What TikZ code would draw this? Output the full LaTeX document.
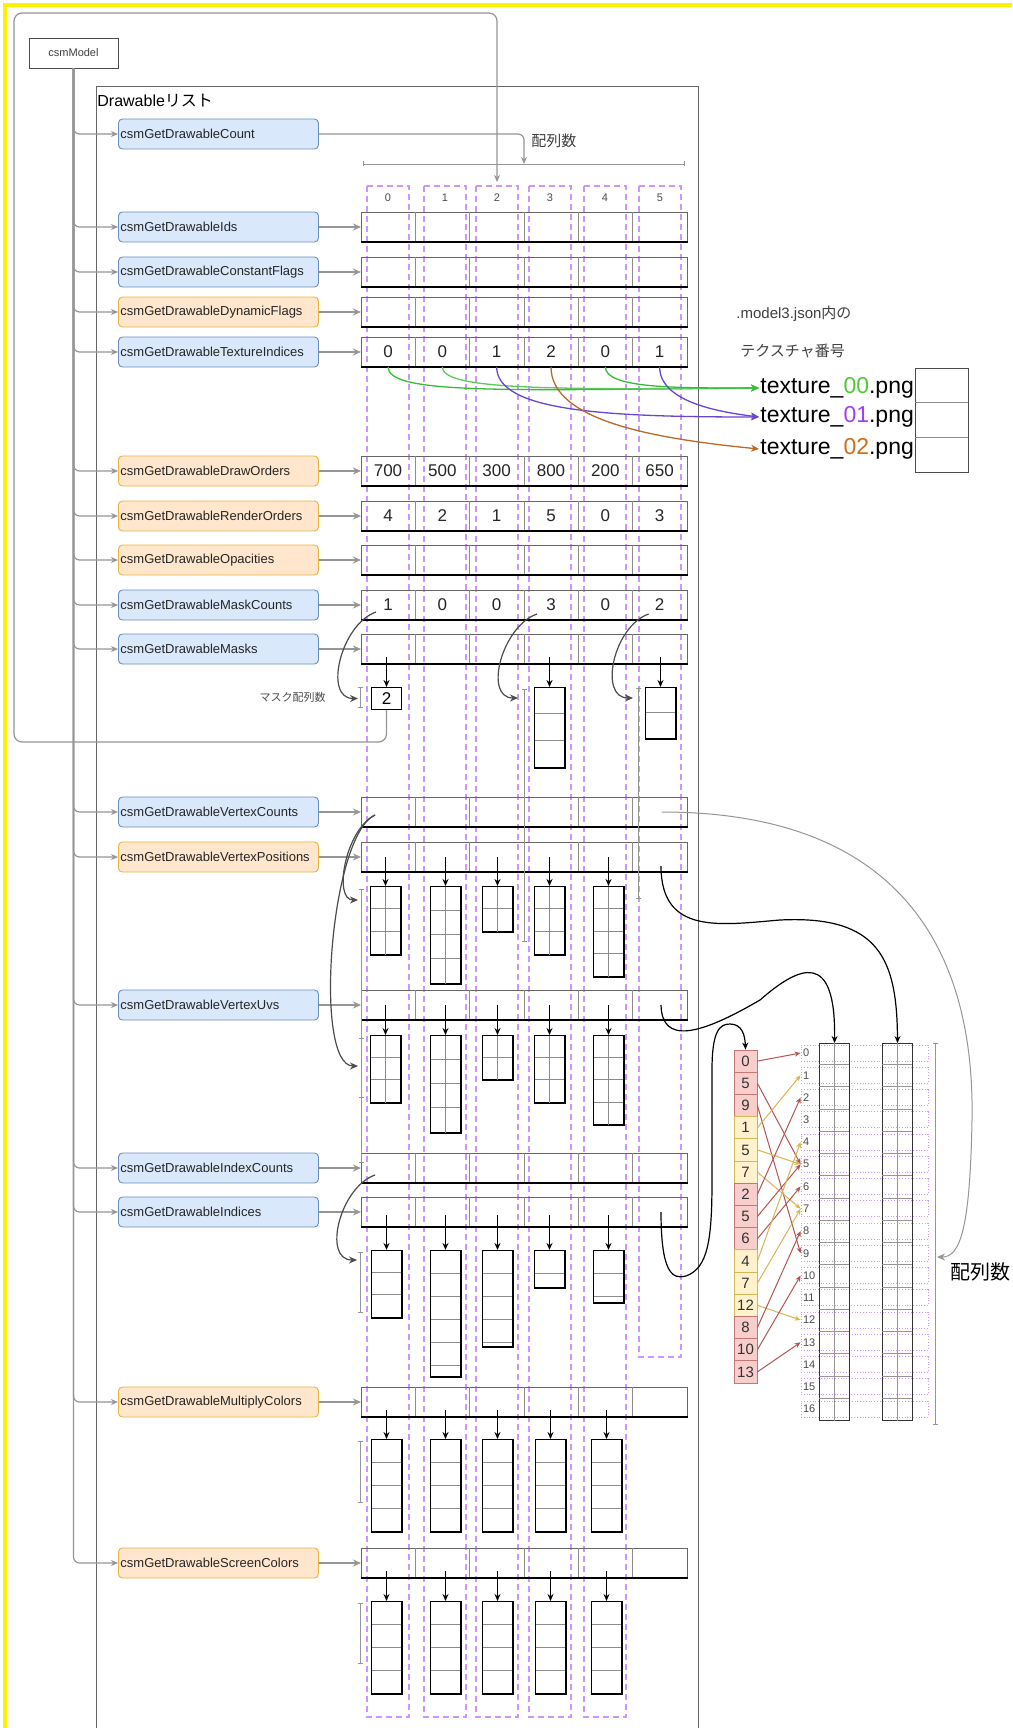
\documentclass[tikz,border=0pt]{standalone}
\usepackage{fontspec}
\setmainfont{Liberation Sans}
\newfontfamily\jp{Noto Sans CJK JP}
\usetikzlibrary{arrows.meta}
\usetikzlibrary{calc}
\definecolor{blue1}{RGB}{218,232,252}
\definecolor{blue2}{RGB}{108,142,191}
\definecolor{orange1}{RGB}{255,230,204}
\definecolor{orange2}{RGB}{235,180,60}
\definecolor{red1}{RGB}{248,206,204}
\definecolor{red2}{RGB}{184,84,80}
\definecolor{yellow1}{RGB}{255,242,204}
\definecolor{yellow2}{RGB}{214,182,86}
\definecolor{purple1}{RGB}{204,150,255}
\definecolor{gray1}{RGB}{150,150,150}
\definecolor{green2}{RGB}{51,190,51}
\definecolor{violet2}{RGB}{105,70,210}
\definecolor{brown2}{RGB}{185,105,40}
\definecolor{greentxt}{RGB}{80,200,50}
\definecolor{violettxt}{RGB}{160,60,255}
\definecolor{browntxt}{RGB}{205,110,20}
\newcommand{\pxfont}[1]{\fontsize{#1}{#1}\selectfont}

\begin{document}
\begin{tikzpicture}[x=1pt, y=-1pt, line width=0.8pt,
  fbox/.style={rounded corners=4pt, line width=0.9pt, minimum height=30pt, text width=196pt,
    inner xsep=2pt, align=left, anchor=west, font=\pxfont{13}, text=black!85},
  fblue/.style={fbox, fill=blue1, draw=blue2},
  forange/.style={fbox, fill=orange1, draw=orange2},
  arrrow/.style={draw=black!60, minimum width=326pt, minimum height=29pt, inner sep=0pt, anchor=west},
  cellline/.style={draw=black!45, line width=0.8pt},
  colfrm/.style={draw=purple1, dash pattern=on 6pt off 4pt, line width=1.6pt},
  val/.style={font=\pxfont{17}, inner sep=0pt, text=black!85},
  hdr/.style={font=\pxfont{11}, text=black!70},
  feed/.style={draw=gray1, line width=1.3pt, -{Stealth[length=8pt,width=7pt]}},
  branch/.style={draw=gray1, line width=1.2pt, rounded corners=6pt, -{Stealth[length=7pt,width=6pt]}},
  blk/.style={draw=black, line width=1.2pt, -{Stealth[length=7pt,width=6pt]}},
  crv/.style={draw=black!70, line width=1.2pt, -{Stealth[length=8pt,width=7pt]}},
  rng/.style={draw=gray1, line width=0.8pt, {Bar[width=5pt]}-{Bar[width=5pt]}},
  subbox/.style={draw=black, line width=1pt, fill=white, minimum width=30pt, inner sep=0pt, anchor=north west},
  idxbox/.style={minimum width=23pt, minimum height=22.2pt, inner sep=0pt, font=\pxfont{15}, text=black!80, line width=0.8pt},
  idxred/.style={idxbox, fill=red1, draw=red2!80},
  idxyel/.style={idxbox, fill=yellow1, draw=yellow2},
  lbrow/.style={draw=purple1, dotted, line width=0.8pt, minimum width=127pt, minimum height=16pt, text width=123pt,
    inner xsep=2pt, inner ysep=0pt, align=left, font=\pxfont{11}, text=black!70},
  tored/.style={draw=red2, line width=1pt, -{Stealth[length=6pt,width=5pt]}},
  toyel/.style={draw=yellow2, line width=1pt, -{Stealth[length=6pt,width=5pt]}},
  texarr/.style={line width=1.3pt, -{Stealth[length=8pt,width=7pt]}}]

\useasboundingbox (0,0) rectangle (1012,1728);
\fill[white] (0,0) rectangle (1012,1728);

% purple column frames
\foreach \cx/\cb [count=\k from 0] in {388/1717, 445/1717, 497/1717, 550/1717, 605/1717, 660/1357} {
  \draw[colfrm] (\cx-21,186) rectangle (\cx+21,\cb);
  \node[hdr] (h\k) at (\cx,198) {\k};
}

% model and list
\node[draw=black!70, minimum width=89pt, minimum height=30pt, inner sep=0pt, font=\pxfont{11}, text=black!75] (model) at (73.5,53) {csmModel};
\draw[draw=black!60, line width=1pt] (96,1730) |- (698,87) -- (698,1730);
\node[anchor=west, inner sep=0pt, font=\pxfont{16}] (lst) at (97,101) {Drawable{\jp リスト}};

\node[fblue] (f-Count) at (118,134) {csmGetDrawableCount};
\draw[branch] (model.south) |- (f-Count.west);

\foreach \nm/\y/\sty in {Ids/227/fblue, ConstantFlags/272/fblue, DynamicFlags/312/forange,
    TextureIndices/352/fblue, DrawOrders/471/forange, RenderOrders/516/forange,
    Opacities/560/forange, MaskCounts/605/fblue, Masks/649/fblue, VertexCounts/812/fblue,
    VertexPositions/857/forange, VertexUvs/1005/fblue, IndexCounts/1168/fblue,
    Indices/1212/fblue, MultiplyColors/1402/forange, ScreenColors/1563/forange}
{
  \node[\sty] (f-\nm) at (118,\y) {csmGetDrawable\nm};
  \draw[branch] (model.south) |- (f-\nm.west);
  \node[arrrow] (r-\nm) at (361,\y) {};
  \foreach \k in {1,...,5}
    \draw[cellline] ($(r-\nm.north west)+(54.33*\k,0)$) -- ($(r-\nm.south west)+(54.33*\k,0)$);
  \draw[line width=1.6pt] (r-\nm.south west) -- (r-\nm.south east);
  \draw[feed] (f-\nm) -- (r-\nm);
}

% values
\foreach \v [count=\k from 0] in {0,0,1,2,0,1}
  \node[val] (tx\k) at ($(r-TextureIndices.west)+(27+54.33*\k,0)$) {\v};
\foreach \v [count=\k from 0] in {700,500,300,800,200,650}
  \node[val] (do\k) at ($(r-DrawOrders.west)+(27+54.33*\k,0)$) {\v};
\foreach \v [count=\k from 0] in {4,2,1,5,0,3}
  \node[val] (ro\k) at ($(r-RenderOrders.west)+(27+54.33*\k,0)$) {\v};
\foreach \v [count=\k from 0] in {1,0,0,3,0,2}
  \node[val] (mc\k) at ($(r-MaskCounts.west)+(27+54.33*\k,0)$) {\v};

% count -> array size
\coordinate (dimL) at (363,164);
\coordinate (dimR) at (685,164);
\coordinate (dimC) at ($(dimL)!0.5!(dimR)$);
\draw[rng] (dimL) -- (dimR);
\draw[branch] (f-Count.east) -| (dimC);
\node[anchor=west, inner sep=0pt, font=\jp\pxfont{15}, text=black!75] (size1) at (531,141) {配列数};

% sub arrays
\node[subbox, minimum height=22pt, font=\pxfont{17}] (m0) at (371,687) {2};
\foreach \bname/\bx/\by/\bh/\brh/\bn/\bsplit in {
    m3/534/687/80/26.5/2/0, m5/645/687/51/25.5/1/0,
    p0/370/886/68/22.7/2/1, p1/430/886/97/24.2/3/1, p2/482/886/45/22.5/1/1, p3/534/886/68/22.7/2/1, p4/593/886/90/22.5/3/1,
    u0/370/1035/67/22.3/2/1, u1/430/1035/97/24.2/3/1, u2/482/1035/44/22/1/1, u3/534/1035/67/22.3/2/1, u4/593/1035/89/22.3/3/1,
    i0/371/1250/67/22.3/2/0, i1/430/1250/126/23/5/0, i2/482/1250/96/23/4/0, i3/534/1250/37/23/1/0, i4/593/1250/52/23/2/0,
    c0/371/1439/92/23/3/0, c1/430/1439/92/23/3/0, c2/482/1439/92/23/3/0, c3/535/1439/92/23/3/0, c4/591/1439/92/23/3/0,
    s0/371/1601/92/23/3/0, s1/430/1601/92/23/3/0, s2/482/1601/92/23/3/0, s3/535/1601/92/23/3/0, s4/591/1601/92/23/3/0}
{
  \node[subbox, minimum height=\bh pt] (\bname) at (\bx,\by) {};
  \foreach \j in {1,...,\bn}
    \draw[cellline] (\bx,\by+\brh*\j) -- ++(30,0);
  \ifnum\bsplit=1 \draw[cellline] (\bname.north) -- (\bname.south); \fi
  \draw[line width=1pt] (\bname.north west) rectangle (\bname.south east);
}
\foreach \bname/\dy in {m0/30, m3/30, m5/30, p0/29, p1/29, p2/29, p3/29, p4/29, u0/30, u1/30, u2/30, u3/30, u4/30,
    i0/35, i1/35, i2/35, i3/35, i4/35, c0/29, c1/29, c2/29, c3/29, c4/29, s0/30, s1/30, s2/30, s3/30, s4/30}
  \draw[blk] ($(\bname.north)+(0,-\dy)$) -- (\bname.north);

% length marks
\draw[rng] (360,687) -- (360,708);
\draw[rng] (524,689) -- (524,942);
\draw[rng] (638,688) -- (638,899);
\draw[rng] (361,889) -- (361,1163);
\draw[rng] (361,1038) -- (361,1098);
\draw[rng] (360,1252) -- (360,1313);
\draw[rng] (360,1441) -- (360,1503);
\draw[rng] (360,1603) -- (360,1664);
\node[anchor=east, inner sep=0pt, font=\jp\pxfont{11}, text=black!70] (masksize) at (326,697) {マスク配列数};

% counts -> sub arrays
\draw[crv] ($(mc0)+(-12,7)$) .. controls +(-35,12) and +(-35,0) .. ($(m0.west)+(-13,0)$);
\draw[crv] ($(mc3)+(-14,9)$) .. controls +(-35,12) and +(-35,0) .. ($(m3.north west)+(-16,11)$);
\draw[crv] ($(mc5)+(-11,9)$) .. controls +(-35,12) and +(-35,0) .. ($(m5.north west)+(-12,11)$);
\coordinate (vc0) at ($(r-VertexCounts.west)+(14,3)$);
\draw[crv] (vc0) .. controls +(-30,15) and +(-25,0) .. ($(p0.north west)+(-12,14)$);
\draw[crv] (vc0) .. controls +(-45,20) and +(-45,0) .. ($(u0.north west)+(-12,31)$);
\draw[crv] ($(r-IndexCounts.west)+(14,7)$) .. controls +(-35,12) and +(-35,0) .. ($(i0.north west)+(-14,10)$);

% loop back to the list
\coordinate (loopEnd) at (497,182);
\draw[branch, rounded corners=8pt] (m0.south) |- (14,742) |- (497,13) -- (loopEnd);

% index buffer
\foreach \v/\sty [count=\j from 0] in {0/idxred,5/idxred,9/idxred,1/idxyel,5/idxyel,7/idxyel,2/idxred,5/idxred,
    6/idxred,4/idxyel,7/idxyel,12/idxyel,8/idxred,10/idxred,13/idxred}
  \node[\sty] (ix\j) at (745.5,1061.1+22.2*\j) {\v};
\foreach \i in {0,...,16}
  \node[lbrow] (lb\i) at (864.5,1053+22.25*\i) {\i};
\foreach \bx [count=\k from 0] in {819,882} {
  \node[draw=black!80, line width=1pt, minimum width=30pt, minimum height=377pt, inner sep=0pt, anchor=north west] (vb\k) at (\bx,1043) {};
  \draw[cellline, draw=gray1] (vb\k.north) -- (vb\k.south);
  \foreach \i in {0,...,15}
    \draw[cellline, draw=gray1] (\bx,1064.5+22.25*\i) -- ++(30,0);
}
\foreach \j/\t/\sty in {0/0/tored, 1/5/tored, 2/9/tored, 3/1/toyel, 4/5/toyel, 5/7/toyel, 6/2/tored, 7/5/tored,
    8/6/tored, 9/4/toyel, 10/7/toyel, 11/12/toyel, 12/8/tored, 13/10/tored, 14/13/tored}
  \draw[\sty] (ix\j.east) -- (lb\t.west);
\draw[rng] (935,1043) -- (935,1425);
\coordinate (vcEnd) at (937,1257);
\node[anchor=west, inner sep=0pt, font=\jp\pxfont{20}] (size2) at (950,1272) {配列数};

% long connectors
\coordinate (vcR) at ($(r-VertexCounts.east)+(-26,0)$);
\draw[feed, line width=1pt] (vcR) .. controls (900,812) and (975,950) .. (972,1120) .. controls (970,1230) and (960,1257) .. (vcEnd);
\coordinate (vp5) at ($(r-VertexPositions.west)+(300,9)$);
\draw[blk] (vp5) .. controls (661,935) and (720,925) .. (780,920) .. controls (880,915) and (897,960) .. (vb1.north);
\coordinate (vu5) at ($(r-VertexUvs.west)+(300,0)$);
\draw[blk] (vu5) .. controls (662,1045) and (700,1035) .. (760,1000) .. controls (800,965) and (836,950) .. (vb0.north);
\coordinate (vi5) at ($(r-Indices.west)+(300,0)$);
\draw[blk] (vi5) .. controls (661,1272) and (672,1280) .. (686,1276) .. controls (708,1268) and (712,1240) .. (712,1180)
  -- (712,1070) .. controls (712,1030) and (720,1024) .. (730,1024) .. controls (742,1024) and (745,1035) .. (ix0.north);

% textures
\node[anchor=west, inner sep=0pt, font=\pxfont{15}, text=black!75] (json) at (736,314) {.model3.json{\jp 内の}};
\node[anchor=west, inner sep=0pt, font=\jp\pxfont{15}, text=black!75] (texno) at (740,351) {テクスチャ番号};
\node[anchor=west, inner sep=1pt, font=\pxfont{23}] (t0) at (759,388) {texture\_\textcolor{greentxt}{00}.png};
\node[anchor=west, inner sep=1pt, font=\pxfont{23}] (t1) at (759,417) {texture\_\textcolor{violettxt}{01}.png};
\node[anchor=west, inner sep=1pt, font=\pxfont{23}] (t2) at (759,449) {texture\_\textcolor{browntxt}{02}.png};
\node[draw=black!70, minimum width=53pt, minimum height=104pt, inner sep=0pt, anchor=north west] (tt) at (915,368) {};
\draw[cellline] ($(tt.north west)+(0,34.7)$) -- ++(53,0);
\draw[cellline] ($(tt.north west)+(0,69.3)$) -- ++(53,0);

\draw[texarr, green2] (tx0 |- r-TextureIndices.south) .. controls +(0,28) and +(-250,2) .. (t0.west);
\draw[texarr, green2!80] (tx1 |- r-TextureIndices.south) .. controls +(0,22) and +(-220,2) .. (t0.west);
\draw[texarr, green2] (tx4 |- r-TextureIndices.south) .. controls +(0,22) and +(-80,0) .. (t0.west);
\draw[texarr, violet2] (tx2 |- r-TextureIndices.south) .. controls +(0,45) and +(-150,0) .. (t1.west);
\draw[texarr, violet2] (tx5 |- r-TextureIndices.south) .. controls +(0,35) and +(-40,-5) .. (t1.west);
\draw[texarr, brown2] (tx3 |- r-TextureIndices.south) .. controls +(0,55) and +(-100,-10) .. (t2.west);

% frame
\draw[yellow, line width=4pt] (1012,5) -- (5,5) -- (5,1728);
\end{tikzpicture}
\end{document}
